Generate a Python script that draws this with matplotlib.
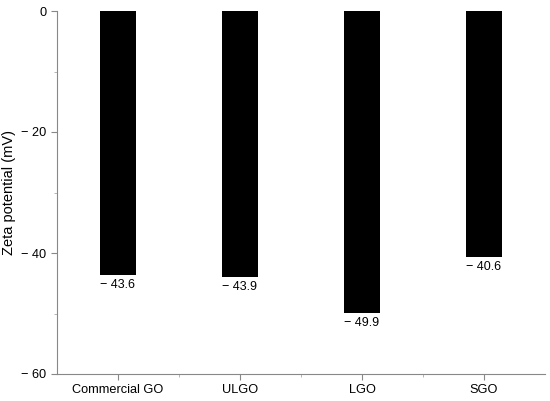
import matplotlib.pyplot as plt
from matplotlib.ticker import MultipleLocator, FixedLocator

plt.rcParams['font.family'] = ['Liberation Sans', 'DejaVu Sans']

samples = ['Commercial GO', 'ULGO', 'LGO', 'SGO']
zeta = [-43.6, -43.9, -49.9, -40.6]
yticks = [0, -20, -40, -60]
ytick_labels = ['0', '\u2212 20', '\u2212 40', '\u2212 60']

fig = plt.figure(figsize=(5.5, 4.01), dpi=100)
ax = fig.add_axes([57 / 550, 1 - 374 / 401, 488 / 550, 363 / 401])

x = range(len(samples))
ax.bar(x, zeta, width=0.3, color='black')
for xi, v in zip(x, zeta):
    ax.annotate('\u2212 {:.1f}'.format(abs(v)), (xi, v), xytext=(0, -3),
                textcoords='offset points', ha='center', va='top', fontsize=9)

ax.set_xlim(-0.5, 3.5)
ax.set_ylim(-60, 0)
ax.set_xticks(list(x))
ax.set_xticklabels(samples, fontsize=9.2)
ax.xaxis.set_minor_locator(FixedLocator([0.5, 1.5, 2.5]))
ax.set_yticks(yticks)
ax.set_yticklabels(ytick_labels, fontsize=9.2)
ax.yaxis.set_minor_locator(MultipleLocator(10))
ax.set_ylabel('Zeta potential (mV)', fontsize=10.5)
ax.yaxis.set_label_coords(-0.083, 0.5)

for s in ['top', 'right']:
    ax.spines[s].set_visible(False)
for s in ['left', 'bottom']:
    ax.spines[s].set_color('#888888')
ax.tick_params(which='major', length=4, color='#888888', direction='out')
ax.tick_params(which='minor', length=2.5, color='#aaaaaa', direction='out')

fig.savefig('out.png', dpi=100)
